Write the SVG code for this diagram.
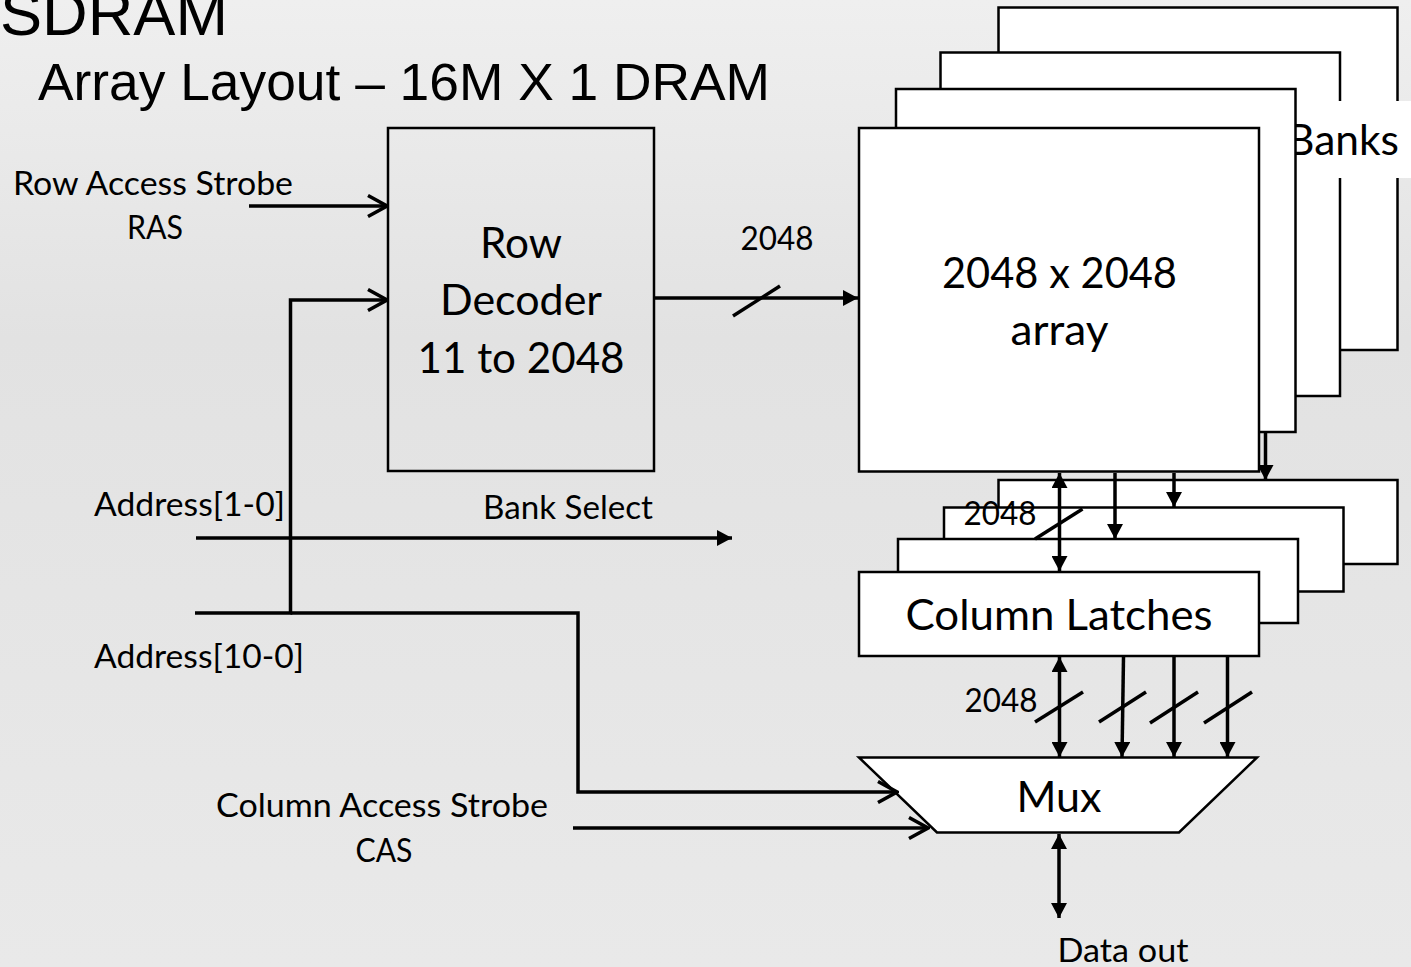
<svg xmlns="http://www.w3.org/2000/svg" width="1411" height="967" viewBox="0 0 1411 967">
<style>
.box{fill:#fff;stroke:#000;stroke-width:2.5}
.hol{fill:none;stroke:#000;stroke-width:2.5}
.ln{fill:none;stroke:#000;stroke-width:3.5}
.sl{fill:none;stroke:#000;stroke-width:3.5}
.s{font-family:Lato,"Open Sans","Liberation Sans",sans-serif;font-size:32px;fill:#000}
.b{font-family:Lato,"Open Sans","Liberation Sans",sans-serif;font-size:43px;fill:#000}
.t{font-family:"Liberation Sans",Arial,sans-serif;fill:#000}
</style>
<defs>
<marker id="fa" viewBox="0 0 15 16" refX="15" refY="8" markerWidth="15" markerHeight="16" markerUnits="userSpaceOnUse" orient="auto-start-reverse"><path d="M0,0 L15,8 L0,16 z" fill="#000"/></marker>
<marker id="oa" viewBox="0 0 22 24" refX="20" refY="12" markerWidth="22" markerHeight="24" markerUnits="userSpaceOnUse" orient="auto"><path d="M1,1.5 L20,12 L1,22.5" fill="none" stroke="#000" stroke-width="3.5"/></marker>
<linearGradient id="bg" x1="0" y1="0" x2="0" y2="1"><stop offset="0" stop-color="#efefef"/><stop offset="0.35" stop-color="#e2e2e2"/><stop offset="0.7" stop-color="#e6e6e6"/><stop offset="1" stop-color="#e9e9e9"/></linearGradient>
</defs>
<rect x="0" y="0" width="1411" height="967" fill="url(#bg)"/>

<g id="title">
<text class="t" x="0" y="35" font-size="63" textLength="228" lengthAdjust="spacingAndGlyphs">SDRAM</text>
<text class="t" x="38" y="100" font-size="51" textLength="732" lengthAdjust="spacingAndGlyphs">Array Layout – 16M X 1 DRAM</text>
</g>

<g id="banks">
<rect class="box" x="998.5" y="7.5" width="399" height="342.5"/>
<rect class="box" x="940.5" y="52.5" width="399.5" height="343.5"/>
<rect x="1296" y="101" width="115" height="77" fill="#fff"/>
<text class="b" x="1287" y="155" textLength="112" lengthAdjust="spacingAndGlyphs">Banks</text>
<rect class="box" x="896" y="89" width="399.5" height="343"/>
</g>

<g id="array">
<rect class="box" x="859" y="128" width="400" height="343.5"/>
<text class="b" x="1059.5" y="288" text-anchor="middle" textLength="235" lengthAdjust="spacingAndGlyphs">2048 x 2048</text>
<text class="b" x="1059.5" y="345" text-anchor="middle" textLength="98" lengthAdjust="spacingAndGlyphs">array</text>
</g>

<g id="row-decoder">
<rect class="hol" x="388" y="128" width="266" height="343"/>
<text class="b" x="521" y="258" text-anchor="middle" textLength="82" lengthAdjust="spacingAndGlyphs">Row</text>
<text class="b" x="521" y="315" text-anchor="middle" textLength="162" lengthAdjust="spacingAndGlyphs">Decoder</text>
<text class="b" x="521" y="373" text-anchor="middle" textLength="207" lengthAdjust="spacingAndGlyphs">11 to 2048</text>
</g>

<g id="column-latches">
<rect class="box" x="998.5" y="480" width="399" height="84"/>
<rect class="box" x="944" y="507.5" width="399.5" height="84"/>
<rect class="box" x="898" y="539" width="400" height="84"/>
<rect class="box" x="859" y="572" width="400" height="84"/>
<text class="b" x="1059" y="630" text-anchor="middle" textLength="307" lengthAdjust="spacingAndGlyphs">Column Latches</text>
</g>

<g id="mux">
<path class="box" d="M859,757.5 L1257,757.5 L1179,832.5 L937,832.5 Z"/>
<text class="b" x="1059" y="812" text-anchor="middle" textLength="85" lengthAdjust="spacingAndGlyphs">Mux</text>
</g>

<g id="labels">
<text class="s" x="13" y="195" textLength="280" lengthAdjust="spacingAndGlyphs">Row Access Strobe</text>
<text class="s" x="155" y="239" text-anchor="middle" textLength="56" lengthAdjust="spacingAndGlyphs">RAS</text>
<text class="s" x="777" y="250" text-anchor="middle" textLength="73" lengthAdjust="spacingAndGlyphs">2048</text>
<text class="s" x="94" y="516" textLength="191" lengthAdjust="spacingAndGlyphs">Address[1-0]</text>
<text class="s" x="483" y="519" textLength="170" lengthAdjust="spacingAndGlyphs">Bank Select</text>
<text class="s" x="94" y="668" textLength="210" lengthAdjust="spacingAndGlyphs">Address[10-0]</text>
<text class="s" x="216" y="817" textLength="332" lengthAdjust="spacingAndGlyphs">Column Access Strobe</text>
<text class="s" x="384" y="862" text-anchor="middle" textLength="57" lengthAdjust="spacingAndGlyphs">CAS</text>
<text class="s" x="1000" y="525" text-anchor="middle" textLength="73" lengthAdjust="spacingAndGlyphs">2048</text>
<text class="s" x="1001" y="712" text-anchor="middle" textLength="73" lengthAdjust="spacingAndGlyphs">2048</text>
<text class="s" x="1123" y="962" text-anchor="middle" textLength="131" lengthAdjust="spacingAndGlyphs">Data out</text>
</g>

<g id="connectors">
<line class="ln" x1="249" y1="206" x2="387" y2="206" marker-end="url(#oa)"/>
<polyline class="ln" points="195,613 290.5,613 290.5,300 387,300" marker-end="url(#oa)"/>
<polyline class="ln" points="290.5,613 578,613 578,792 897,792" marker-end="url(#oa)"/>
<line class="ln" x1="573" y1="828" x2="928" y2="828" marker-end="url(#oa)"/>
<line class="ln" x1="196" y1="538" x2="732" y2="538" marker-end="url(#fa)"/>
<line class="ln" x1="654" y1="298" x2="858" y2="298" marker-end="url(#fa)"/>
<line class="sl" x1="733" y1="316" x2="780" y2="286"/>
<line class="ln" x1="1059.5" y1="473" x2="1059.5" y2="571" marker-start="url(#fa)" marker-end="url(#fa)"/>
<line class="sl" x1="1035" y1="539" x2="1082.5" y2="509"/>
<line class="ln" x1="1115" y1="473" x2="1115" y2="539" marker-end="url(#fa)"/>
<line class="ln" x1="1174" y1="473" x2="1174" y2="507" marker-end="url(#fa)"/>
<line class="ln" x1="1265.5" y1="433" x2="1265.5" y2="480" marker-end="url(#fa)"/>
<line class="ln" x1="1059.5" y1="657" x2="1059.5" y2="757" marker-start="url(#fa)" marker-end="url(#fa)"/>
<line class="sl" x1="1035" y1="722" x2="1083" y2="692"/>
<line class="ln" x1="1123.5" y1="657" x2="1122" y2="757" marker-end="url(#fa)"/>
<line class="sl" x1="1099" y1="722" x2="1146" y2="692"/>
<line class="ln" x1="1174" y1="657" x2="1174" y2="757" marker-end="url(#fa)"/>
<line class="sl" x1="1150" y1="723" x2="1198" y2="692"/>
<line class="ln" x1="1227.5" y1="657" x2="1227.5" y2="757" marker-end="url(#fa)"/>
<line class="sl" x1="1204" y1="723" x2="1252" y2="692"/>
<line class="ln" x1="1059" y1="834" x2="1059" y2="918" marker-start="url(#fa)" marker-end="url(#fa)"/>
</g>
</svg>
